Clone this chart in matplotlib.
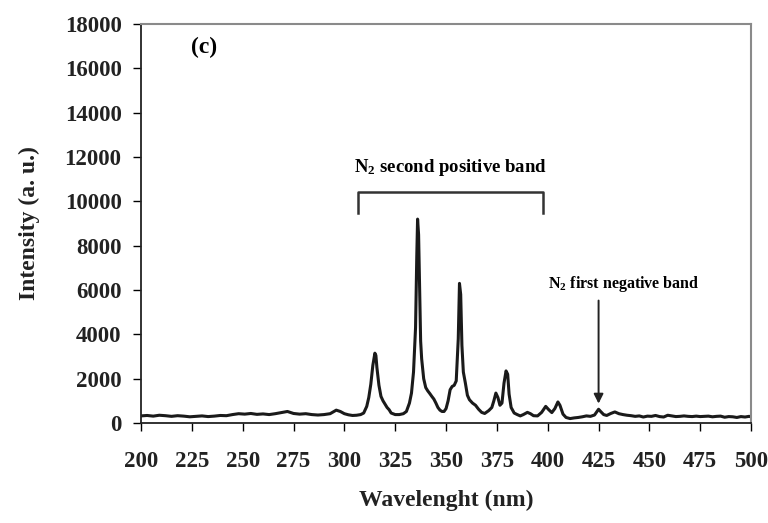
import matplotlib
matplotlib.use("Agg")
import matplotlib.pyplot as plt

wavelength = [200, 203, 206, 209, 212, 215, 218, 221, 224, 227, 230, 233, 236, 239, 242, 245, 248,
              251, 254, 257, 260, 263, 266, 269, 272, 275, 278, 281, 284, 287, 290, 293, 296, 298,
              300, 302, 304, 306, 308, 309.5, 311, 312, 313, 314, 315, 315.5, 316, 317, 318, 319,
              320, 321, 322, 323, 325, 327, 329, 330.5, 332, 333, 334, 335, 335.6, 336, 336.5, 337,
              337.5, 338, 339, 340, 341, 342, 343, 344, 345, 346, 347, 348, 349, 350, 351, 352,
              353, 354, 355, 356, 356.6, 357.2, 357.8, 358.5, 359.5, 360.5, 361.5, 363, 364.5,
              366, 367.5, 369, 371, 372.5, 373.5, 374.5, 375.5, 376.5, 377.5, 378.5, 379.5, 380.3,
              381, 382, 383.5, 385, 386.5, 388, 390, 391.5, 393, 395, 397, 399, 400.5, 402, 403.5,
              405, 406, 407.5, 409, 411, 413, 415, 417, 419, 421, 423, 425, 426, 427.5, 429, 431,
              433, 435, 437, 439, 441, 443, 445, 447, 449, 451, 453, 455, 457, 459, 461, 463, 465,
              467, 469, 471, 473, 475, 477, 479, 481, 483, 485, 487, 489, 491, 493, 495, 497, 499,
              500]
intensity = [320, 340, 310, 350, 330, 300, 330, 310, 280, 300, 320, 290, 310, 340, 330, 380, 420,
             400, 430, 390, 410, 380, 420, 470, 520, 430, 400, 420, 380, 360, 380, 420, 580, 520,
             420, 370, 340, 350, 380, 450, 750, 1150, 1750, 2600, 3150, 3050, 2500, 1700, 1200, 1000,
             850, 700, 600, 450, 380, 380, 420, 520, 900, 1350, 2300, 4300, 7500, 9200, 8500, 6000,
             3700, 2900, 2000, 1600, 1450, 1330, 1200, 1080, 900, 700, 580, 520, 520, 650, 1000, 1500,
             1650, 1700, 1900, 3800, 6300, 5800, 3500, 2300, 1800, 1250, 1050, 900, 800,
             620, 480, 430, 560, 700, 1000, 1350, 1150, 800, 900, 1800, 2350, 2200,
             1300, 700, 450, 380, 320, 380, 480, 420, 330, 320, 480, 750, 600, 470, 650,
             950, 800, 400, 250, 200, 230, 250, 280, 320, 300, 360, 620, 520, 380, 340, 430,
             500, 420, 380, 350, 330, 300, 320, 270, 310, 300, 340, 290, 270, 350, 320, 290, 300,
             320, 300, 290, 310, 290, 300, 310, 280, 300, 310, 260, 290, 280, 250, 290, 270, 300,
             280]

x_ticks = [200, 225, 250, 275, 300, 325, 350, 375, 400, 425, 450, 475, 500]
y_ticks = [0, 2000, 4000, 6000, 8000, 10000, 12000, 14000, 16000, 18000]

plt.rcParams['font.family'] = ['Liberation Serif', 'DejaVu Serif']
plt.rcParams['font.weight'] = 'bold'
plt.rcParams['mathtext.fontset'] = 'custom'
plt.rcParams['mathtext.rm'] = 'Liberation Serif:bold'
plt.rcParams['mathtext.it'] = 'Liberation Serif:bold'
plt.rcParams['mathtext.bf'] = 'Liberation Serif:bold'
plt.rcParams['mathtext.default'] = 'rm'

fig = plt.figure(figsize=(7.68, 5.23), dpi=100)
ax = fig.add_axes([0.1836, 0.1912, 0.7944, 0.7628])

ax.plot(wavelength, intensity, color='#1a1a1a', lw=2.2)

ax.set_xlim(200, 500)
ax.set_ylim(0, 18000)
ax.set_xticks(x_ticks)
ax.set_yticks(y_ticks)
ax.tick_params(direction='out', length=6, width=1, labelsize=16.5)
ax.tick_params(axis='x', pad=14)
ax.tick_params(axis='y', pad=8)
for lab in ax.get_xticklabels() + ax.get_yticklabels():
    lab.set_fontweight('bold')
    lab.set_color('#222222')

for s in ['left', 'bottom']:
    ax.spines[s].set_color('#222222')
    ax.spines[s].set_linewidth(1.3)
for s in ['top', 'right']:
    ax.spines[s].set_color('#8a8a8a')
    ax.spines[s].set_linewidth(1.5)

ax.set_xlabel('Wavelenght (nm)', fontsize=17, fontweight='bold', labelpad=13, color='#222222')
ax.set_ylabel('Intensity (a. u.)', fontsize=17, fontweight='bold', labelpad=18, color='#222222')

ax.text(224.5, 16950, '(c)', fontsize=17, fontweight='bold', va='center', ha='left')

# bracket for second positive band
ax.plot([306.5, 306.5, 397.7, 397.7], [9460, 10440, 10440, 9460], color='#333333', lw=1.8)
ax.text(352, 11550, r'N$_2$ second positive band', fontsize=13.5, fontweight='bold',
        ha='center', va='center')

ax.text(437.5, 6250, r'N$_2$ first negative band', fontsize=11.5, fontweight='bold',
        ha='center', va='center')
ax.annotate('', xy=(425, 750), xytext=(425, 5650),
            arrowprops=dict(arrowstyle='-|>', color='#222222', lw=1.4, mutation_scale=14))

fig.savefig('out.png', dpi=100)
